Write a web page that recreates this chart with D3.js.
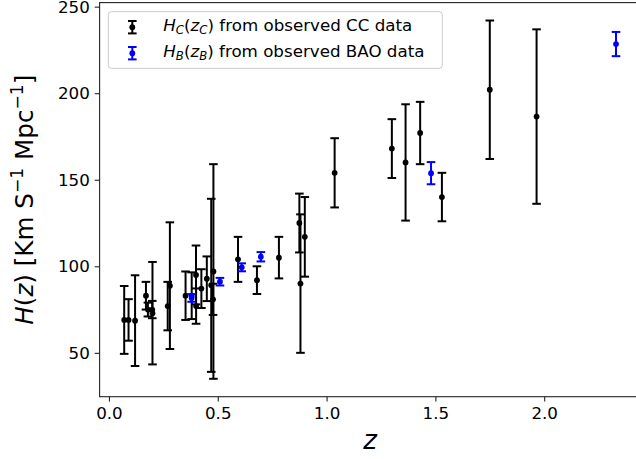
<!DOCTYPE html>
<html>
<head>
<meta charset="utf-8">
<script src="https://cdn.jsdelivr.net/npm/d3@7"></script>
<style>
  body { margin: 0; background: #fff; }
  svg { display: block; font-family: "DejaVu Sans", sans-serif; }
</style>
</head>
<body>
<script>
'use strict';

// cosmic chronometer data
const ccZ = [0.07, 0.09, 0.12, 0.17, 0.179, 0.199, 0.2, 0.27, 0.28, 0.352, 0.3802, 0.4, 0.4004, 0.4247,
	0.4497, 0.47, 0.4783, 0.48, 0.593, 0.68, 0.781, 0.875, 0.88, 0.9, 1.037, 1.3, 1.363, 1.43, 1.53, 1.75, 1.965];
const ccH = [69, 69, 68.6, 83, 75, 75, 72.9, 77, 88.8, 83, 83, 95, 77, 87.1,
	92.8, 89, 80.9, 97, 104, 92, 105, 125, 90, 117, 154, 168, 160, 177, 140, 202, 186.5];
const ccErr = [19.6, 12, 26.2, 8, 4, 5, 29.6, 14, 36.6, 14, 13.5, 17, 10.2, 11.2,
	12.9, 50, 9, 62, 13, 8, 12, 17, 40, 23, 20, 17, 33.6, 18, 14, 40, 50.4];

// BAO data
const baoZ = [0.38, 0.51, 0.61, 0.698, 1.48, 2.33];
const baoH = [81.7, 91.1, 99.4, 105.5, 153.8, 228.4];
const baoErr = [2.2, 2.2, 2.3, 2.7, 6.4, 7.0];

const xTicks = [0, 0.5, 1.0, 1.5, 2.0];
const yTicks = [50, 100, 150, 200, 250];

let width = 636, height = 459;
let plot = {left: 99.6, top: 2.6, right: 640.6, bottom: 396.7};
const fs = 16.7; // tick + legend font size

let svg = d3.select("body").append("svg")
	.attr("width", width)
	.attr("height", height);

let x = d3.scaleLinear()
	.domain([-0.043, 2.443])
	.range([plot.left, plot.right]);

let y = d3.scaleLinear()
	.domain([24.65, 252.35])
	.range([plot.bottom, plot.top]);

let ccData = ccZ.map((z, i) => ({z: z, h: ccH[i], e: ccErr[i]}));
let baoData = baoZ.map((z, i) => ({z: z, h: baoH[i], e: baoErr[i]}));

const cap = 4.3;

function drawErrorbars(data, color) {
	let g = svg.append("g");
	g.selectAll("line.bar").data(data).enter().append("line")
		.attr("x1", d => x(d.z)).attr("x2", d => x(d.z))
		.attr("y1", d => y(d.h - d.e)).attr("y2", d => y(d.h + d.e))
		.attr("stroke", color).attr("stroke-width", 2);
	// caps
	[-1, 1].forEach(s => {
		g.selectAll("line.cap" + (s + 1)).data(data).enter().append("line")
			.attr("x1", d => x(d.z) - cap).attr("x2", d => x(d.z) + cap)
			.attr("y1", d => y(d.h + s * d.e)).attr("y2", d => y(d.h + s * d.e))
			.attr("stroke", color).attr("stroke-width", 2);
	});
	g.selectAll("circle").data(data).enter().append("circle")
		.attr("cx", d => x(d.z))
		.attr("cy", d => y(d.h))
		.attr("r", 2.9)
		.attr("fill", color);
}

drawErrorbars(ccData, "#000");
drawErrorbars(baoData, "#0000ff");

// axes
let xAxis = svg.append("g")
	.attr("transform", `translate(0,${plot.bottom})`)
	.call(d3.axisBottom(x).tickValues(xTicks).tickFormat(d3.format(".1f")).tickSize(4.9).tickPadding(6));

let yAxis = svg.append("g")
	.attr("transform", `translate(${plot.left},0)`)
	.call(d3.axisLeft(y).tickValues(yTicks).tickFormat(d3.format("d")).tickSize(4.9).tickPadding(4.9));

[xAxis, yAxis].forEach(a => {
	a.select(".domain").remove();
	a.selectAll("text").attr("font-size", fs + "px").attr("font-family", "DejaVu Sans").attr("fill", "#000");
	a.selectAll("line").attr("stroke", "#222").attr("stroke-width", 1.1);
});

// frame
svg.append("rect")
	.attr("x", plot.left).attr("y", plot.top)
	.attr("width", plot.right - plot.left).attr("height", plot.bottom - plot.top)
	.attr("fill", "none").attr("stroke", "#222").attr("stroke-width", 1.1);

// axis labels
svg.append("text")
	.attr("x", (plot.left + plot.right) / 2)
	.attr("y", 449.3)
	.attr("text-anchor", "middle")
	.attr("font-size", "26px")
	.attr("font-style", "italic")
	.text("z");

let yl = svg.append("text")
	.attr("transform", `translate(33.3,${(plot.top + plot.bottom) / 2}) rotate(-90)`)
	.attr("text-anchor", "middle")
	.attr("font-size", "24.6px");
yl.append("tspan").attr("font-style", "italic").text("H");
yl.append("tspan").text("(");
yl.append("tspan").attr("font-style", "italic").text("z");
yl.append("tspan").text(") [Km S");
yl.append("tspan").attr("font-size", "17.2px").attr("dy", -10).text("\u22121");
yl.append("tspan").attr("dy", 10).text(" Mpc");
yl.append("tspan").attr("font-size", "17.2px").attr("dy", -10).text("\u22121");
yl.append("tspan").attr("dy", 10).text("]");

// legend
let legend = svg.append("g");
legend.append("rect")
	.attr("x", 108.3).attr("y", 11.7)
	.attr("width", 334).attr("height", 56.6)
	.attr("rx", 3)
	.attr("fill", "#fff").attr("fill-opacity", 0.8)
	.attr("stroke", "#ccc").attr("stroke-width", 1);

let legendItems = [
	{color: "#000", sub: "C", text: ") from observed CC data", cy: 27.2},
	{color: "#0000ff", sub: "B", text: ") from observed BAO data", cy: 53.2}
];

legendItems.forEach(it => {
	let hx = 132.3;
	legend.append("line").attr("x1", hx).attr("x2", hx)
		.attr("y1", it.cy - 6.2).attr("y2", it.cy + 6.2)
		.attr("stroke", it.color).attr("stroke-width", 2);
	[-6.2, 6.2].forEach(o => legend.append("line")
		.attr("x1", hx - cap).attr("x2", hx + cap)
		.attr("y1", it.cy + o).attr("y2", it.cy + o)
		.attr("stroke", it.color).attr("stroke-width", 2));
	legend.append("circle").attr("cx", hx).attr("cy", it.cy).attr("r", 2.9).attr("fill", it.color);

	let t = legend.append("text")
		.attr("x", 163.3).attr("y", it.cy + 3.6)
		.attr("font-size", fs + "px");
	t.append("tspan").attr("font-style", "italic").text("H");
	t.append("tspan").attr("font-style", "italic").attr("font-size", "11.7px").attr("dy", 3.5).text(it.sub);
	t.append("tspan").attr("dy", -3.5).text("(");
	t.append("tspan").attr("font-style", "italic").text("z");
	t.append("tspan").attr("font-style", "italic").attr("font-size", "11.7px").attr("dy", 3.5).text(it.sub);
	t.append("tspan").attr("dy", -3.5).text(it.text);
});
</script>
</body>
</html>
